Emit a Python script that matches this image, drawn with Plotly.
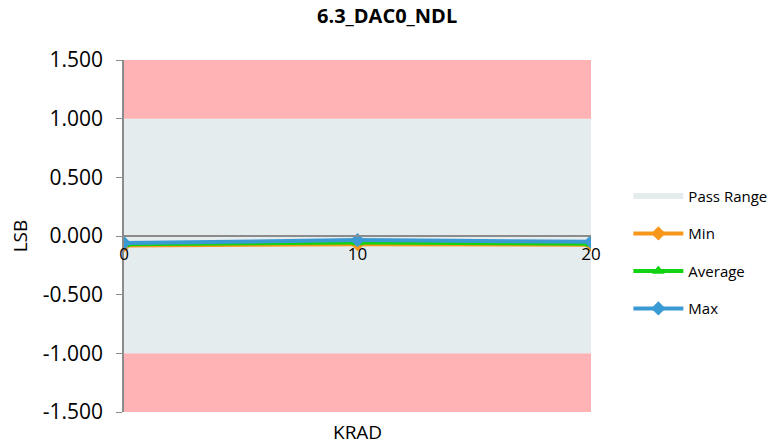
import plotly.graph_objs as go

# data
krad = [0, 10, 20]
min_vals = [-0.08, -0.07, -0.075]
avg_vals = [-0.07, -0.055, -0.065]
max_vals = [-0.06, -0.035, -0.05]

fail_low = [-1.5, -1.5, -1.5]
pass_low = [-1.0, -1.0, -1.0]
pass_high = [1.0, 1.0, 1.0]
fail_high = [1.5, 1.5, 1.5]

y_ticks = [-1.5, -1.0, -0.5, 0.0, 0.5, 1.0, 1.5]
y_labels = ["-1.500", "-1.000", "-0.500", "0.000", "0.500", "1.000", "1.500"]

PINK = "#FFB3B5"
PASS = "#E4ECEE"
AXIS = "#8C8C8C"
FONT = "Open Sans"

fig = go.Figure()

# background bands
fig.add_trace(go.Scatter(x=krad, y=fail_low, mode="lines", line=dict(width=0),
                         showlegend=False, hoverinfo="skip"))
fig.add_trace(go.Scatter(x=krad, y=pass_low, mode="lines", line=dict(width=0),
                         fill="tonexty", fillcolor=PINK, showlegend=False, hoverinfo="skip"))
fig.add_trace(go.Scatter(x=krad, y=pass_high, mode="none", fill="tonexty", fillcolor=PASS,
                         name="Pass Range", legendgroup="a"))
fig.add_trace(go.Scatter(x=krad, y=fail_high, mode="lines", line=dict(width=0),
                         fill="tonexty", fillcolor=PINK, showlegend=False, hoverinfo="skip"))

series = [
    ("Min", min_vals, "#F7981D", "diamond"),
    ("Average", avg_vals, "#12D312", "triangle-up"),
    ("Max", max_vals, "#3A9AD3", "diamond"),
]
for name, vals, color, sym in series:
    fig.add_trace(go.Scatter(
        x=krad, y=vals, name=name, mode="lines+markers",
        line=dict(color=color, width=4),
        marker=dict(symbol=sym, size=11, color=color),
        legendgroup=name,
    ))

# page body adds an 8px offset, so the figure is sized to fit the window
fig.update_layout(
    width=769, height=437,
    margin=dict(l=116, r=186, t=52, b=33, autoexpand=False),
    paper_bgcolor="white", plot_bgcolor="white",
    font=dict(family=FONT, color="#000000"),
    title=dict(text="<b>6.3_DAC0_NDL</b>", x=0.493, xref="container", xanchor="center",
               y=0.997, yanchor="top", font=dict(size=20, family=FONT)),
    legend=dict(x=1.08, xanchor="left", y=0.66, yanchor="top",
                font=dict(size=15, family=FONT), tracegroupgap=15,
                itemwidth=50, bgcolor="rgba(0,0,0,0)"),
    xaxis=dict(range=[0, 20], tickvals=krad, ticktext=[str(k) for k in krad],
               showgrid=False, zeroline=False, showline=True, linecolor=AXIS,
               linewidth=1.5, anchor="free", position=0.5, ticks="",
               ticklabelstandoff=3,
               tickfont=dict(size=17, family=FONT), automargin=False),
    yaxis=dict(range=[-1.5, 1.5], tickvals=y_ticks, ticktext=y_labels,
               showgrid=False, zeroline=False, showline=True, linecolor=AXIS,
               linewidth=1.5, ticks="outside", ticklen=6, tickcolor=AXIS,
               ticklabelstandoff=9,
               tickfont=dict(size=21, family=FONT), automargin=False),
    annotations=[
        dict(text="KRAD", x=0.5, xref="paper", y=-0.057, yref="paper",
             yanchor="middle", showarrow=False, font=dict(size=19, family=FONT)),
        dict(text="LSB", x=-0.222, xref="paper", y=0.5, yref="paper",
             xanchor="center", yanchor="middle", textangle=-90, showarrow=False,
             font=dict(size=19, family=FONT)),
    ],
)

fig.write_html("out.html")
